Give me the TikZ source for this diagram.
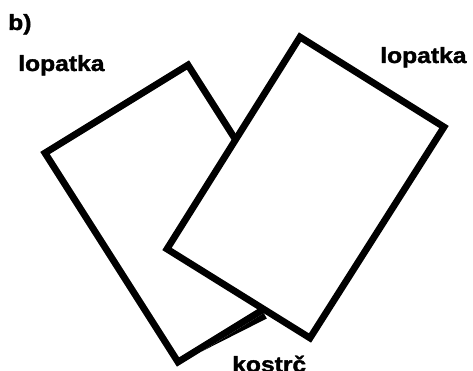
\documentclass[tikz,border=0pt]{standalone}
\usepackage{fontspec}
\setmainfont{Liberation Sans}
\newfontfamily\heavyfont[FakeBold=1.5]{Liberation Sans Bold}
\begin{document}
\begin{tikzpicture}[x=1pt,y=-1pt,
  card/.style={draw=black,fill=white,line width=6.8pt,line join=miter},
  lbl/.style={font=\heavyfont\fontsize{22}{24}\selectfont,inner sep=0pt,anchor=base west,xscale=1.12}]
\useasboundingbox (0,0) rectangle (473,371);
% back card
\coordinate (bT) at (188,65);
\coordinate (bL) at (45,153);
\coordinate (bB) at (178,362);
\coordinate (bR) at (321,274);
\draw[card] (bT) -- (bL) -- (bB) -- (bR) -- cycle;
% thickened part near the tail
\fill[black] (201.8,351.4) -- (263.8,313.2) -- (266.8,318.5) -- cycle;
% front card
\coordinate (fT) at (300,37);
\coordinate (fR) at (444,127);
\coordinate (fB) at (310,338);
\coordinate (fL) at (167,249);
\draw[card] (fT) -- (fR) -- (fB) -- (fL) -- cycle;
% labels
\node[lbl] (b) at (8,30) {b)};
\node[lbl] (l1) at (18,71) {lopatka};
\node[lbl] (l2) at (380,63) {lopatka};
\node[lbl] (k) at (232,372) {kostrč};
\end{tikzpicture}
\end{document}
